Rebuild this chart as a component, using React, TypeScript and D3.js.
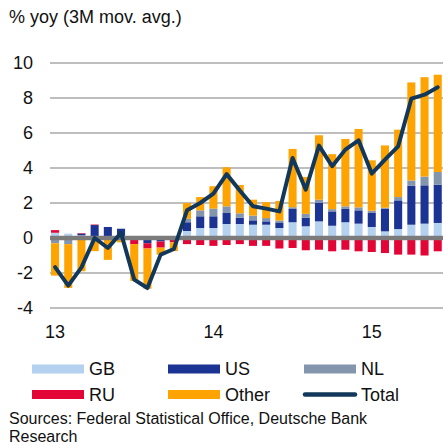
import React, { useEffect, useRef } from 'react';
import * as d3 from 'd3';

// monthly, Jan 2013 .. Jun 2015
const months = [
  '2013-01', '2013-02', '2013-03', '2013-04', '2013-05', '2013-06',
  '2013-07', '2013-08', '2013-09', '2013-10', '2013-11', '2013-12',
  '2014-01', '2014-02', '2014-03', '2014-04', '2014-05', '2014-06',
  '2014-07', '2014-08', '2014-09', '2014-10', '2014-11', '2014-12',
  '2015-01', '2015-02', '2015-03', '2015-04', '2015-05', '2015-06',
];

const gb = [0.3, 0.25, 0.15, 0, 0, 0, 0, 0, 0, 0.1, 0.4, 0.57, 0.57, 0.8, 0.8, 0.76, 0.76, 0.57, 0.9, 0.67, 0.95, 0.7, 0.9, 0.82, 0.63, 0.38, 0.51, 0.76, 0.82, 0.86];
const us = [0, -0.1, 0.1, 0.74, 0.63, 0.53, 0, -0.3, -0.2, 0, 0.5, 0.67, 0.67, 0.63, 0.36, 0.25, 0.19, 0.32, 0.76, 0.48, 1.05, 0.82, 0.76, 0.76, 0.8, 1.3, 1.64, 2.23, 2.19, 2.19];
const nl = [-0.3, -0.25, 0, 0, 0, 0, 0, 0, 0, 0, 0.2, 0.34, 0.44, 0.38, 0.25, 0.27, 0.19, 0.11, 0.1, 0.23, 0.19, 0.13, 0.15, 0.17, 0.13, 0.05, 0.19, 0.3, 0.5, 0.72];
const ru = [0.15, 0, 0.03, 0.03, -0.05, 0, -0.35, -0.3, -0.35, -0.25, -0.35, -0.4, -0.45, -0.4, -0.35, -0.45, -0.45, -0.6, -0.57, -0.7, -0.67, -0.76, -0.67, -0.76, -0.8, -0.86, -0.95, -0.95, -1.0, -0.76];
const other = [-1.85, -2.5, -1.9, -0.75, -1.2, -0.25, -2.1, -2.3, -0.4, -0.5, 0.9, 0.76, 1.28, 2.23, 1.62, 0.91, 0.91, 1.12, 3.33, 2.11, 3.68, 3.14, 3.85, 4.48, 2.88, 3.56, 3.85, 5.6, 5.68, 5.56];
const total = [-1.66, -2.72, -1.68, 0.0, -0.57, 0.29, -2.38, -2.86, -0.95, -0.63, 1.58, 2.0, 2.53, 3.65, 2.72, 1.81, 1.68, 1.52, 4.57, 2.76, 5.28, 4.1, 5.05, 5.58, 3.68, 4.48, 5.24, 7.96, 8.19, 8.61];

const yTicks = [-4, -2, 0, 2, 4, 6, 8, 10];
const yearTicks = [
  { month: '2013-01', label: '13' },
  { month: '2014-01', label: '14' },
  { month: '2015-01', label: '15' },
];

const series = [
  { key: 'GB', values: gb, color: '#b4d2ef' },
  { key: 'US', values: us, color: '#1b3392' },
  { key: 'NL', values: nl, color: '#8396ae' },
  { key: 'RU', values: ru, color: '#e30536' },
  { key: 'Other', values: other, color: '#ffa300' },
];
const totalColor = '#11385a';

const W = 443, H = 446;
const font = 'Liberation Sans, Arial, sans-serif';

export default function App() {
  const ref = useRef<SVGSVGElement>(null);

  useEffect(() => {
    const svg = d3.select(ref.current);
    svg.selectAll('*').remove();

    const x = d3.scaleBand<string>().domain(months).range([48.4, 444.4]).paddingInner(0.39).paddingOuter(0.2);
    const y = d3.scaleLinear().domain([-4, 10]).range([308, 63]);

    /* title */
    svg.append('text')
      .attr('x', 9).attr('y', 23)
      .attr('font-size', 18).attr('fill', '#111')
      .text('% yoy (3M mov. avg.)');

    /* grid + y labels */
    const g = svg.append('g');
    g.selectAll('line.grid')
      .data(yTicks.filter(d => d !== 0))
      .join('line')
      .attr('x1', 50).attr('x2', W)
      .attr('y1', d => y(d)).attr('y2', d => y(d))
      .attr('stroke', '#a9a9a9').attr('stroke-width', 1.5);
    g.selectAll('text.ylab')
      .data(yTicks)
      .join('text')
      .attr('x', 33).attr('y', d => y(d))
      .attr('dy', '0.36em')
      .attr('text-anchor', 'end')
      .attr('font-size', 18).attr('fill', '#111')
      .text(d => d);

    /* stacked bars: positives up, negatives down, in series order */
    const bw = x.bandwidth();
    months.forEach((m, i) => {
      let pos = 0, neg = 0;
      series.forEach(s => {
        const v = s.values[i];
        if (!v) return;
        let y0, y1;
        if (v > 0) { y0 = pos; y1 = pos + v; pos = y1; }
        else { y0 = neg; y1 = neg + v; neg = y1; }
        svg.append('rect')
          .attr('x', x(m)!)
          .attr('width', bw)
          .attr('y', y(Math.max(y0, y1)))
          .attr('height', Math.abs(y(y0) - y(y1)))
          .attr('fill', s.color);
      });
    });

    /* zero line */
    svg.append('line')
      .attr('x1', 50).attr('x2', W)
      .attr('y1', y(0)).attr('y2', y(0))
      .attr('stroke', '#7b7b7b').attr('stroke-width', 4.5);

    /* total line */
    svg.append('path')
      .datum(total)
      .attr('fill', 'none')
      .attr('stroke', totalColor)
      .attr('stroke-width', 4)
      .attr('stroke-linejoin', 'round')
      .attr('stroke-linecap', 'round')
      .attr('d', d3.line<number>()
        .x((_, i) => x(months[i])! + bw / 2)
        .y(d => y(d)));

    /* x labels */
    svg.selectAll('text.xlab')
      .data(yearTicks)
      .join('text')
      .attr('x', d => x(d.month)! + bw / 2)
      .attr('y', 338)
      .attr('text-anchor', 'middle')
      .attr('font-size', 18).attr('fill', '#111')
      .text(d => d.label);

    /* legend */
    const legend = [
      { key: 'GB', col: 0, row: 0 },
      { key: 'US', col: 1, row: 0 },
      { key: 'NL', col: 2, row: 0 },
      { key: 'RU', col: 0, row: 1 },
      { key: 'Other', col: 1, row: 1 },
      { key: 'Total', col: 2, row: 1 },
    ];
    const colX = [32, 168, 304];
    const rowY = [369, 394.5];
    legend.forEach(l => {
      const lx = colX[l.col], ly = rowY[l.row];
      if (l.key === 'Total') {
        svg.append('line')
          .attr('x1', lx + 1).attr('x2', lx + 51)
          .attr('y1', ly).attr('y2', ly)
          .attr('stroke', totalColor).attr('stroke-width', 4.5)
          .attr('stroke-linecap', 'round');
      } else {
        const s = series.find(d => d.key === l.key)!;
        svg.append('rect')
          .attr('x', lx).attr('y', ly - 4.5)
          .attr('width', 52).attr('height', 9)
          .attr('fill', s.color);
      }
      svg.append('text')
        .attr('x', lx + 57).attr('y', ly)
        .attr('dy', '0.36em')
        .attr('font-size', 18).attr('fill', '#111')
        .text(l.key);
    });

    /* source note */
    svg.append('text')
      .attr('x', 9).attr('y', 423.5)
      .attr('font-size', 16).attr('fill', '#111')
      .text('Sources: Federal Statistical Office, Deutsche Bank');
    svg.append('text')
      .attr('x', 9).attr('y', 441.5)
      .attr('font-size', 16).attr('fill', '#111')
      .text('Research');
  }, []);

  return (
    <svg
      ref={ref}
      width={W}
      height={H}
      style={{ position: 'absolute', left: 0, top: 0, background: '#fff', fontFamily: font }}
    />
  );
}
